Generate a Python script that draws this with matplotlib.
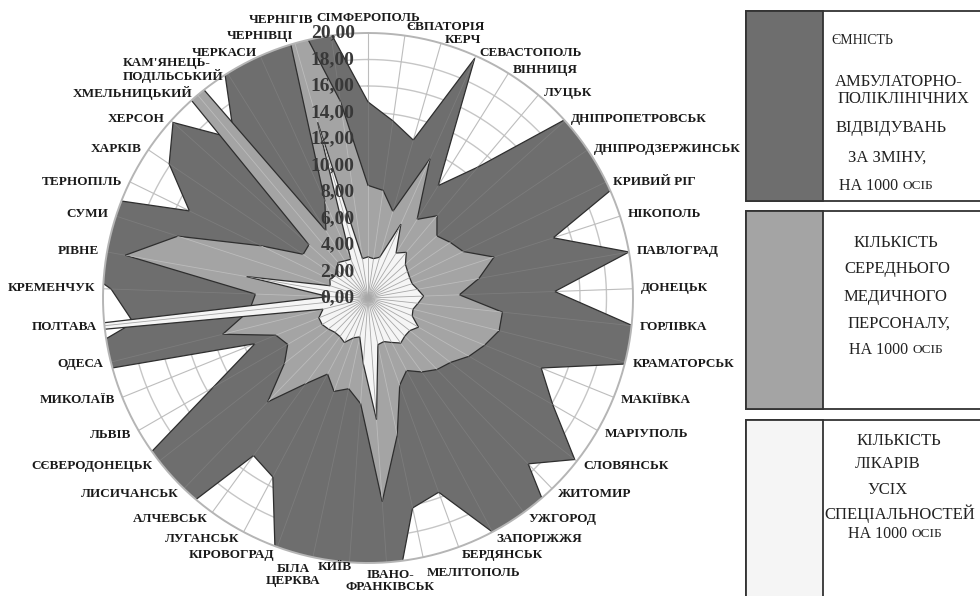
import numpy as np
import matplotlib.pyplot as plt
from matplotlib.patches import Circle, Rectangle
from matplotlib.collections import LineCollection

# ──────────────────────────────────────────────
# Data (axis 0..20, larger values are cut by the rim)
# ──────────────────────────────────────────────
cities = [
    "СІМФЕРОПОЛЬ", "ЄВПАТОРІЯ", "КЕРЧ", "СЕВАСТОПОЛЬ", "ВІННИЦЯ", "ЛУЦЬК",
    "ДНІПРОПЕТРОВСЬК", "ДНІПРОДЗЕРЖИНСЬК", "КРИВИЙ РІГ", "НІКОПОЛЬ",
    "ПАВЛОГРАД", "ДОНЕЦЬК", "ГОРЛІВКА", "КРАМАТОРСЬК", "МАКІЇВКА",
    "МАРІУПОЛЬ", "СЛОВЯНСЬК", "ЖИТОМИР", "УЖГОРОД", "ЗАПОРІЖЖЯ",
    "БЕРДЯНСЬК", "МЕЛІТОПОЛЬ", "ІВАНО-\nФРАНКІВСЬК", "КИЇВ", "БІЛА\nЦЕРКВА",
    "КІРОВОГРАД", "ЛУГАНСЬК", "АЛЧЕВСЬК", "ЛИСИЧАНСЬК", "СЄВЕРОДОНЕЦЬК",
    "ЛЬВІВ", "МИКОЛАЇВ", "ОДЕСА", "ПОЛТАВА", "КРЕМЕНЧУК", "РІВНЕ", "СУМИ",
    "ТЕРНОПІЛЬ", "ХАРКІВ", "ХЕРСОН", "ХМЕЛЬНИЦЬКИЙ", "КАМ'ЯНЕЦЬ-\nПОДІЛЬСЬКИЙ",
    "ЧЕРКАСИ", "ЧЕРНІВЦІ", "ЧЕРНІГІВ",
]

# ємність амбулаторно-поліклінічних відвідувань за зміну, на 1000 осіб
visits = [14.8, 13.5, 12.4, 19.8, 10.0, 12.9, 20.3, 22.0, 23.0, 14.7,
          20.0, 14.1, 20.1, 20.5, 14.1, 16.1, 19.8, 17.4, 26.8, 20.0,
          15.6, 16.2, 24.6, 23.0, 22.0, 20.5, 15.3, 14.7, 28.0, 26.3,
          13.5, 9.2, 26.0, 17.8, 19.4, 25.0, 27.0, 15.0, 18.1, 19.8,
          15.7, 20.5, 22.0, 22.0, 20.2]

# кількість середнього медичного персоналу, на 1000 осіб
nurses = [8.5, 8.2, 6.8, 11.5, 7.0, 8.1, 7.0, 7.5, 8.0, 10.0,
          8.5, 6.9, 10.2, 10.2, 9.5, 8.8, 7.9, 7.5, 6.9, 6.2,
          7.0, 10.6, 15.4, 8.0, 7.0, 7.5, 6.5, 8.0, 10.9, 8.0,
          7.0, 7.5, 11.3, 9.0, 8.5, 18.6, 15.1, 9.0, 5.9, 6.0,
          60.0, 6.0, 8.0, 25.0, 15.0]

# кількість лікарів усіх спеціальностей, на 1000 осіб
doctors = [3.1, 3.0, 3.2, 6.1, 4.0, 4.5, 3.8, 3.6, 3.5, 3.5,
           3.8, 4.2, 3.8, 3.5, 3.6, 4.4, 4.0, 4.0, 4.2, 3.8,
           3.5, 3.6, 9.2, 5.0, 3.0, 3.2, 3.8, 3.6, 3.6, 3.8,
           4.0, 4.0, 3.5, 40.0, 3.0, 9.3, 3.0, 3.2, 3.0, 3.2,
           3.5, 3.3, 3.2, 13.8, 3.0]

r_ticks = np.arange(0, 21, 2)

# legend: (text, x centre, y) in px for each box
legend_lines = [
    [("ЄМНІСТЬ", 862, 40), ("АМБУЛАТОРНО-", 899, 82), ("ПОЛІКЛІНІЧНИХ", 903, 99),
     ("ВІДВІДУВАНЬ", 891, 128), ("ЗА ЗМІНУ,", 887, 158), ("НА 1000 ОСІБ", 886, 186)],
    [("КІЛЬКІСТЬ", 896, 243), ("СЕРЕДНЬОГО", 897, 269), ("МЕДИЧНОГО", 895, 297),
     ("ПЕРСОНАЛУ,", 899, 324), ("НА 1000 ОСІБ", 896, 350)],
    [("КІЛЬКІСТЬ", 899, 441), ("ЛІКАРІВ", 888, 464), ("УСІХ", 888, 490),
     ("СПЕЦІАЛЬНОСТЕЙ", 900, 514), ("НА 1000 ОСІБ", 895, 534)],
]
colors = ["#6e6e6e", "#a4a4a4", "#f5f5f5"]

# ──────────────────────────────────────────────
# Figure
# ──────────────────────────────────────────────
W, H = 980, 596
cx, cy, R = 368, 298, 265           # centre and radius of the radar, px
RMAX = 20.0
k = R / RMAX                          # px per unit

fig = plt.figure(figsize=(W / 100, H / 100), dpi=100)
ax = fig.add_axes([0, 0, 1, 1])
ax.set_xlim(-cx / k, (W - cx) / k)
ax.set_ylim(-(H - cy) / k, cy / k)
ax.axis("off")

n = len(cities)
theta = np.arange(n) * 2 * np.pi / n
sx, cc = np.sin(theta), np.cos(theta)
spokes = [[(0, 0), (RMAX * s, RMAX * c)] for s, c in zip(sx, cc)]

# circular gridlines and spokes behind the fills
t = np.linspace(0, 2 * np.pi, 400)
for r in r_ticks[1:-1]:
    ax.plot(r * np.sin(t), r * np.cos(t), color="#c6c6c6", lw=1.0, zorder=1)
ax.add_collection(LineCollection(spokes, colors="#bdbdbd", lw=0.8, zorder=1))

clip = Circle((0, 0), RMAX, transform=ax.transData)

spoke_cols = ["#7c7c7c", "#bcbcbc", "#a8a8a8"]
for vals, col, scol, z in zip([visits, nurses, doctors], colors, spoke_cols, [2, 3, 4]):
    v = np.asarray(vals)
    poly = ax.fill(v * sx, v * cc, facecolor=col, edgecolor="#2e2e2e",
                   lw=0.9, zorder=z)[0]
    poly.set_clip_path(clip)
    # category axes show through the fill
    lc = LineCollection(spokes, colors=scol, lw=0.6, zorder=z + 0.5)
    ax.add_collection(lc)
    lc.set_clip_path(poly)

ax.plot(RMAX * np.sin(t), RMAX * np.cos(t), color="#b5b5b5", lw=1.4, zorder=5)

# radial tick labels
for r in r_ticks:
    ax.text(-1.0, r, f"{r:.2f}".replace(".", ","), ha="right", va="center",
            fontsize=14, fontweight="bold", family="Liberation Serif",
            color="#383838", zorder=6)

# category labels
nudge = {  # px shifts for crowded labels
    "СІМФЕРОПОЛЬ": (0, -7), "ЧЕРНІГІВ": (-17, -8), "ЄВПАТОРІЯ": (0, -1),
    "КЕРЧ": (1, 4), "КИЇВ": (-14, -3),
    "ІВАНО-\nФРАНКІВСЬК": (3, 11), "БІЛА\nЦЕРКВА": (9, 10), "МЕЛІТОПОЛЬ": (2, 8),
}
r_lab = (R + 8) / k
for name, s, c in zip(cities, sx, cc):
    ha = "center" if abs(s) < 0.1 else ("left" if s > 0 else "right")
    dx, dy = nudge.get(name, (0, 4 if 0.35 < c < 0.95 else 0))
    ax.text(r_lab * s + dx / k, r_lab * c - dy / k, name, ha=ha, va="center",
            fontsize=9.5, fontweight="bold", family="Liberation Serif",
            color="#1a1a1a", linespacing=1.0,
            multialignment="left" if "КАМ" in name else "center", zorder=6)

# ──────────────────────────────────────────────
# Legend boxes (pixel coordinates)
# ──────────────────────────────────────────────
lg = fig.add_axes([0, 0, 1, 1])
lg.set_xlim(0, W)
lg.set_ylim(H, 0)
lg.axis("off")
lg.patch.set_alpha(0)

boxes = [(11, 201), (211, 409), (420, 620)]
x0, xs, x1 = 746, 823, 985
renderer = fig.canvas.get_renderer()
font = dict(family="Liberation Serif", color="#222222", va="center")
for (y0, y1), col, lines in zip(boxes, colors, legend_lines):
    lg.add_patch(Rectangle((x0, y0), x1 - x0, y1 - y0, facecolor="white",
                           edgecolor="#333333", lw=1.3, clip_on=False))
    lg.add_patch(Rectangle((x0, y0), xs - x0, y1 - y0, facecolor=col,
                           edgecolor="#333333", lw=1.3, clip_on=False))
    for txt, tx, ty in lines:
        if txt.endswith("ОСІБ"):
            # "ОСІБ" is set in small capitals
            a = lg.text(0, ty, "НА 1000 ", fontsize=11.5, ha="left", **font)
            b = lg.text(0, ty, "ОСІБ", fontsize=9.5, ha="left", **font)
            wa = a.get_window_extent(renderer).width
            wb = b.get_window_extent(renderer).width
            a.set_x(tx - (wa + wb) / 2)
            b.set_x(tx - (wa + wb) / 2 + wa)
        else:
            lg.text(tx, ty, txt, ha="center",
                    fontsize=10 if txt == "ЄМНІСТЬ" else 12, **font)

fig.savefig("out.png", dpi=100)
